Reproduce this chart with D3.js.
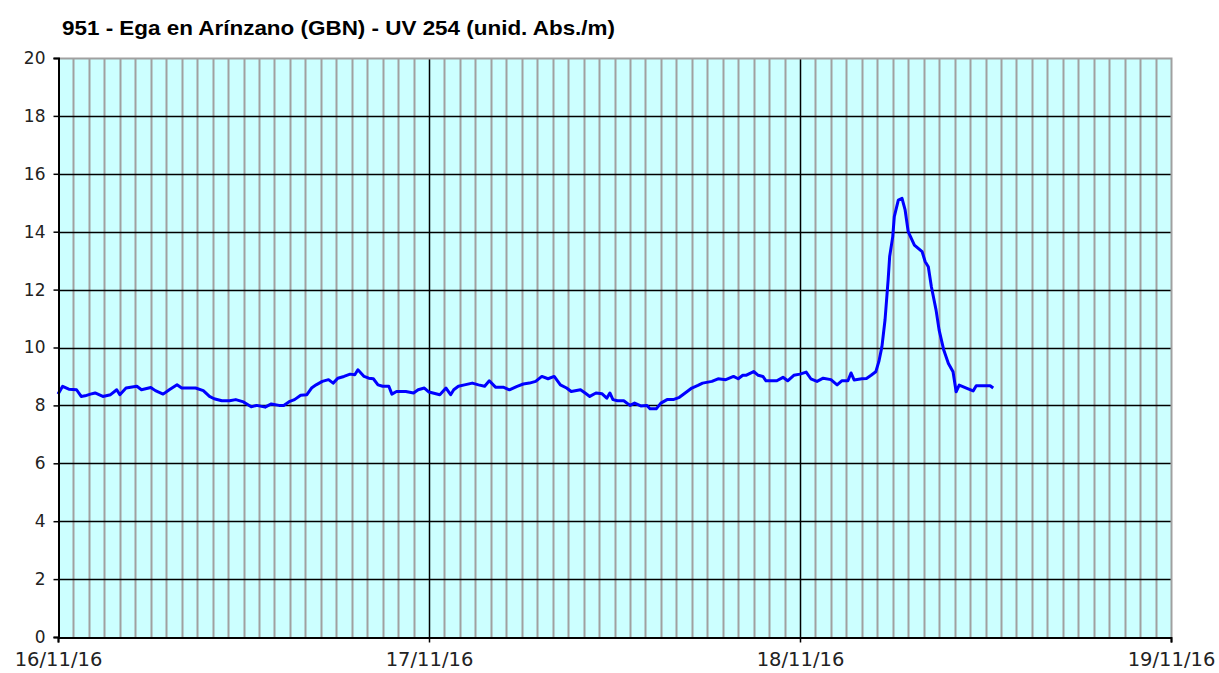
<!DOCTYPE html>
<html>
<head>
<meta charset="utf-8">
<script src="https://cdn.jsdelivr.net/npm/d3@7"></script>
<style>
  body { margin: 0; background: #fff; }
  svg { display: block; }
</style>
</head>
<body>
<script>
// hours after 16/11/16 00:00 and UV 254 readings
let hours = [0,0.3,0.7,1.2,1.5,1.75,2.1,2.4,2.9,3.4,3.8,4.0,4.4,5.1,5.4,6.0,6.3,6.8,7.2,7.7,
  8.0,8.5,8.9,9.4,9.8,10.1,10.6,11.1,11.5,12.0,12.5,12.85,13.4,13.8,14.3,14.6,15.0,15.3,15.7,16.1,
  16.4,16.7,17.1,17.5,17.8,18.1,18.5,18.9,19.2,19.4,19.8,20.1,20.4,20.7,21.0,21.4,21.6,21.9,22.5,23.0,
  23.3,23.7,24.0,24.7,25.1,25.4,25.6,25.9,26.3,26.8,27.2,27.6,27.9,28.3,28.8,29.2,29.7,30.1,30.5,30.9,
  31.3,31.7,32.1,32.5,32.9,33.2,33.8,34.1,34.4,34.8,35.2,35.5,35.7,35.9,36.2,36.6,37.0,37.3,37.7,38.1,
  38.3,38.7,39.0,39.4,39.8,40.2,40.7,41.0,41.4,41.7,42.3,42.7,43.2,43.7,44.0,44.3,44.5,45.0,45.3,45.6,
  45.8,46.5,46.9,47.2,47.6,48.0,48.4,48.7,49.1,49.5,50.0,50.4,50.7,51.1,51.3,51.5,52.0,52.3,52.6,52.9,
  53.1,53.3,53.5,53.7,53.8,54.0,54.1,54.36,54.6,54.8,55.0,55.2,55.4,55.9,56.1,56.3,56.5,56.8,57.0,57.3,
  57.6,57.9,58.1,58.3,58.8,59.2,59.4,59.9,60.3,60.5];
let uv = [8.39,8.66,8.56,8.54,8.31,8.33,8.39,8.43,8.31,8.37,8.54,8.37,8.6,8.66,8.54,8.62,8.51,8.39,8.54,8.71,
  8.6,8.6,8.6,8.51,8.31,8.23,8.16,8.16,8.2,8.12,7.95,8.0,7.94,8.05,8.0,8.0,8.14,8.2,8.35,8.37,
  8.6,8.71,8.83,8.89,8.77,8.94,9.0,9.08,9.06,9.23,9.0,8.94,8.92,8.71,8.66,8.66,8.39,8.48,8.48,8.43,
  8.54,8.6,8.46,8.37,8.6,8.37,8.54,8.66,8.71,8.77,8.71,8.66,8.85,8.63,8.63,8.54,8.66,8.74,8.77,8.83,
  9.0,8.92,9.0,8.71,8.6,8.48,8.54,8.43,8.31,8.43,8.4,8.25,8.43,8.2,8.16,8.16,8.0,8.08,7.98,8.0,
  7.88,7.88,8.08,8.2,8.2,8.28,8.48,8.6,8.69,8.77,8.83,8.92,8.89,9.0,8.92,9.04,9.04,9.17,9.04,9.0,
  8.85,8.85,8.97,8.85,9.04,9.08,9.15,8.92,8.83,8.94,8.89,8.71,8.85,8.85,9.12,8.88,8.92,8.93,9.04,9.16,
  9.51,10.03,10.95,12.33,13.14,13.83,14.52,15.09,15.15,14.75,14.0,13.77,13.54,13.31,12.96,12.79,12.1,11.3,10.6,9.91,
  9.45,9.16,8.47,8.7,8.59,8.5,8.68,8.68,8.68,8.6];

let dayLabels = ["16/11/16", "17/11/16", "18/11/16", "19/11/16"];
let yTicks = [0, 2, 4, 6, 8, 10, 12, 14, 16, 18, 20];
let title = "951 - Ega en Arínzano (GBN) - UV 254 (unid. Abs./m)";

let start = new Date(2016, 10, 16);
let end = new Date(2016, 10, 19);
let data = hours.map((h, i) => ({ t: new Date(start.getTime() + h * 3600000), v: uv[i] }));

let svg = d3.select("body")
  .append("svg")
  .attr("width", 1219)
  .attr("height", 673);

let plotLeft = 58, plotRight = 1171, plotTop = 58, plotBottom = 637;

let xScale = d3.scaleTime()
  .domain([start, end])
  .range([plotLeft, plotRight]);
let yScale = d3.scaleLinear()
  .domain([0, 20])
  .range([plotBottom, plotTop]);

// plot background
svg.append("rect")
  .attr("x", plotLeft).attr("y", plotTop)
  .attr("width", plotRight - plotLeft).attr("height", plotBottom - plotTop)
  .attr("fill", "#ccffff");

// hourly grid
svg.append("g")
  .selectAll("line")
  .data(d3.timeHour.range(start, end).filter(d => d.getHours() !== 0))
  .enter()
  .append("line")
  .attr("x1", d => Math.round(xScale(d)) + 0.5)
  .attr("x2", d => Math.round(xScale(d)) + 0.5)
  .attr("y1", plotTop).attr("y2", plotBottom)
  .attr("stroke", "#a0a0a0")
  .attr("stroke-width", 2);

// horizontal grid
svg.append("g")
  .selectAll("line")
  .data(yTicks.filter(d => d > 0 && d < 20))
  .enter()
  .append("line")
  .attr("x1", plotLeft).attr("x2", plotRight)
  .attr("y1", d => Math.round(yScale(d)) + 0.5)
  .attr("y2", d => Math.round(yScale(d)) + 0.5)
  .attr("stroke", "#000")
  .attr("stroke-width", 1.5);

// day lines
svg.append("g")
  .selectAll("line")
  .data(d3.timeDay.range(d3.timeDay.offset(start, 1), end))
  .enter()
  .append("line")
  .attr("x1", d => Math.round(xScale(d)) + 0.5)
  .attr("x2", d => Math.round(xScale(d)) + 0.5)
  .attr("y1", plotTop).attr("y2", plotBottom)
  .attr("stroke", "#000")
  .attr("stroke-width", 1.5);

// top and right border
svg.append("path")
  .attr("d", `M${plotLeft},${plotTop + 0.5}H${plotRight + 0.5}V${plotBottom}`)
  .attr("fill", "none")
  .attr("stroke", "#a0a0a0")
  .attr("stroke-width", 2);

// series
let line = d3.line()
  .x(d => xScale(d.t))
  .y(d => yScale(d.v));

svg.append("path")
  .datum(data)
  .attr("d", line)
  .attr("fill", "none")
  .attr("stroke", "#0000ff")
  .attr("stroke-width", 3)
  .attr("stroke-linejoin", "round");

// axes
let yAxis = d3.axisLeft(yScale)
  .tickValues(yTicks)
  .tickSize(5)
  .tickPadding(8);
let gy = svg.append("g")
  .attr("transform", `translate(${plotLeft + 0.5},0)`)
  .call(yAxis);
gy.select(".domain").attr("stroke", "#000").attr("stroke-width", 2);
gy.selectAll(".tick line").attr("stroke", "#000").attr("stroke-width", 1.5);
gy.selectAll("text")
  .attr("font-family", "'DejaVu Sans', Verdana, sans-serif")
  .attr("font-size", 17)
  .attr("fill", "#222");

let xAxis = d3.axisBottom(xScale)
  .tickValues(d3.timeDay.range(start, d3.timeDay.offset(end, 1)))
  .tickFormat((d, i) => dayLabels[i])
  .tickSize(5)
  .tickPadding(10);
let gx = svg.append("g")
  .attr("transform", `translate(0,${plotBottom + 0.5})`)
  .call(xAxis);
gx.select(".domain").attr("stroke", "#000").attr("stroke-width", 2);
gx.selectAll(".tick line").attr("stroke", "#000").attr("stroke-width", 1.5);
gx.selectAll("text")
  .attr("font-family", "'DejaVu Sans', Verdana, sans-serif")
  .attr("font-size", 19.5)
  .attr("fill", "#222");

// title
svg.append("text")
  .attr("x", 62)
  .attr("y", 35)
  .attr("font-family", "'Liberation Sans', Arial, sans-serif")
  .attr("font-weight", "bold")
  .attr("font-size", 21)
  .attr("textLength", 553)
  .attr("lengthAdjust", "spacingAndGlyphs")
  .attr("fill", "#000")
  .text(title);
</script>
</body>
</html>
